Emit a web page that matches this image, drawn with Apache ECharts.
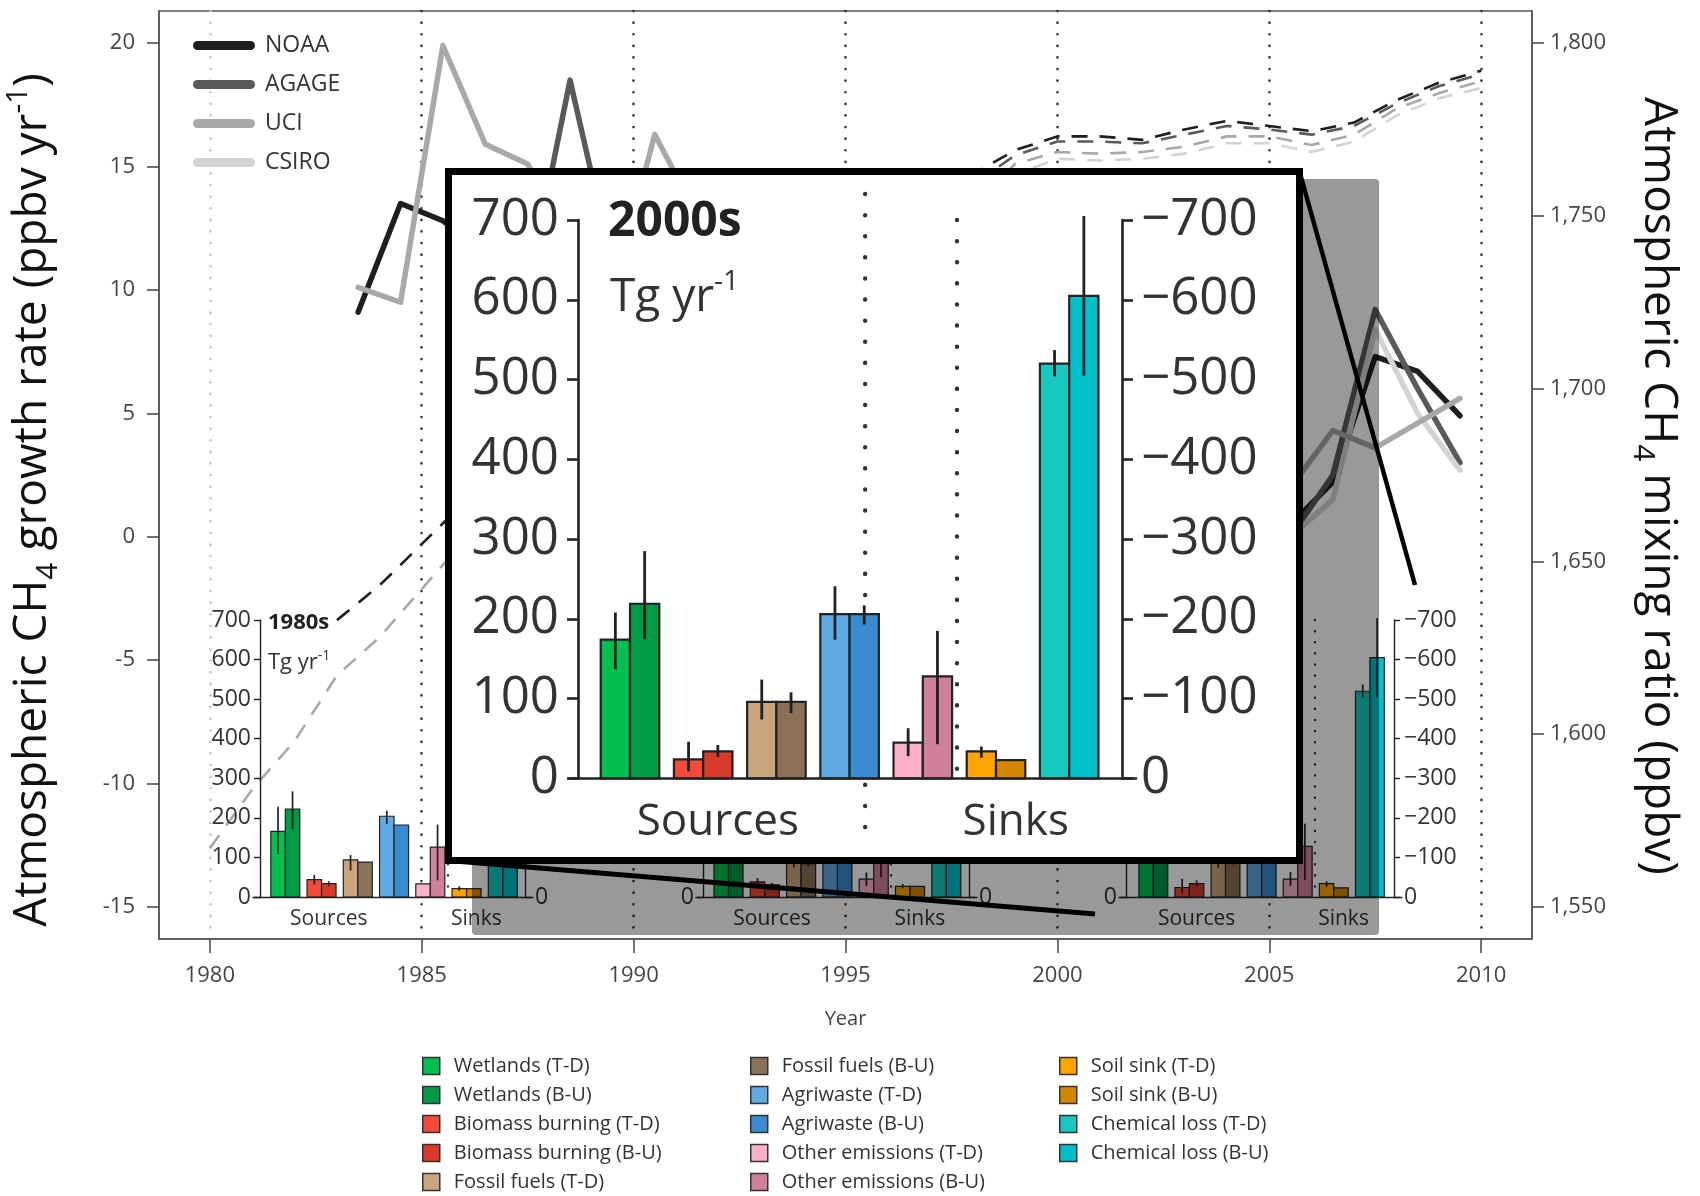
<!DOCTYPE html>
<html><head><meta charset="utf-8">
<script src="https://cdn.jsdelivr.net/npm/echarts@6/dist/echarts.min.js"></script>
<style>html,body{margin:0;padding:0;background:#fff}#c{width:1700px;height:1196px}</style>
</head><body><div id="c"></div>
<script>
// ---------------- DATA ----------------
const tickYears = [1980,1985,1990,1995,2000,2005,2010];
const growthTicks = [-15,-10,-5,0,5,10,15,20];
const mixTicks = [1550,1600,1650,1700,1750,1800];

// growth rate (ppbv/yr), [year, value]
const noaaGrowth = [[1983.5,9.1],[1984.5,13.5],[1985.5,12.8],[1986.5,11.5],[1987.5,12.5],[1988.5,11.5],[1989.5,9.5],[1990.5,8.5],[1991.5,12.5],[1992.5,4],[1993.5,2.5],[1994.5,6],[1995.5,4],[1996.5,3],[1997.5,7],[1998.5,11],[1999.5,3.5],[2000.5,0],[2001.5,0.5],[2002.5,2],[2003.5,3],[2004.5,-1],[2005.5,0.5],[2006.5,2.2],[2007.5,7.3],[2008.5,6.7],[2009.5,4.9]];
const agageGrowth = [[1987.5,10],[1988.5,18.5],[1989.5,11],[1990.5,10],[1991.5,13],[1992.5,5],[1993.5,3],[1994.5,5.5],[1995.5,4.5],[1996.5,2],[1997.5,6],[1998.5,12],[1999.5,4],[2000.5,0.5],[2001.5,0],[2002.5,3],[2003.5,2.5],[2004.5,-0.5],[2005.5,0],[2006.5,2.5],[2007.5,9.2],[2008.5,6.0],[2009.5,3.0]];
const uciGrowth = [[1983.5,10.1],[1984.5,9.5],[1985.5,19.9],[1986.5,15.9],[1987.5,15.1],[1988.5,12],[1989.5,9.8],[1990.5,16.3],[1991.5,13],[1992.5,5],[1993.5,4],[1994.5,7],[1995.5,5],[1996.5,3.5],[1997.5,8],[1998.5,10],[1999.5,3],[2000.5,1],[2001.5,0.5],[2002.5,3.5],[2003.5,4],[2004.5,1],[2005.5,2],[2006.5,4.3],[2007.5,3.6],[2008.5,4.6],[2009.5,5.6]];
const csiroGrowth = [[1986.5,11],[1987.5,12],[1988.5,13],[1989.5,9],[1990.5,8],[1991.5,13],[1992.5,4],[1993.5,3],[1994.5,5],[1995.5,4],[1996.5,2.5],[1997.5,6],[1998.5,11],[1999.5,3],[2000.5,-0.5],[2001.5,0],[2002.5,3],[2003.5,1.5],[2004.5,-1.5],[2005.5,0],[2006.5,1.5],[2007.5,8.4],[2008.5,5.0],[2009.5,2.7]];

// mixing ratio (ppbv), [year, value]
const noaaMix = [[1983,1633],[1984,1643],[1985,1655],[1986,1667],[1987,1678],[1988,1690],[1989,1700],[1990,1709],[1991,1718],[1992,1728],[1993,1733],[1994,1737],[1995,1742],[1996,1746],[1997,1750],[1998,1762],[1999,1769],[2000,1773],[2001,1773],[2002,1772],[2003,1775],[2004,1777.5],[2005,1776],[2006,1774.5],[2007,1777],[2008,1783.5],[2009,1788.5],[2010,1792]];
const agageMix = [[1987,1676],[1988,1688],[1989,1698],[1990,1707],[1991,1716],[1992,1726],[1993,1731],[1994,1735],[1995,1740],[1996,1744],[1997,1748],[1998,1759],[1999,1767.5],[2000,1771.5],[2001,1771.5],[2002,1771],[2003,1773.5],[2004,1776],[2005,1775],[2006,1773.5],[2007,1776],[2008,1782.5],[2009,1787.5],[2010,1791]];
const uciMix = [[1980,1567],[1981,1584],[1982,1598],[1983,1617],[1984,1628],[1985,1642],[1986,1656],[1987,1668],[1988,1680],[1989,1690],[1990,1700],[1991,1710],[1992,1720],[1993,1725],[1994,1729],[1995,1734],[1996,1738],[1997,1742],[1998,1753],[1999,1765],[2000,1768.5],[2001,1768],[2002,1768.5],[2003,1770],[2004,1773],[2005,1773],[2006,1770.5],[2007,1773.5],[2008,1781],[2009,1785.5],[2010,1789]];
const csiroMix = [[1986,1652],[1987,1664],[1988,1676],[1989,1687],[1990,1697],[1991,1707],[1992,1717],[1993,1722],[1994,1726],[1995,1731],[1996,1735],[1997,1739],[1998,1750],[1999,1762],[2000,1766.5],[2001,1766],[2002,1766.5],[2003,1768],[2004,1771],[2005,1771],[2006,1768.5],[2007,1771.5],[2008,1779],[2009,1784],[2010,1787]];

// budget bars (Tg/yr): [value, low, high]; sinks negative
const barTypes = ['Wetlands','Biomass burning','Fossil fuels','Agriwaste','Other emissions','Soil sink','Chemical loss'];
const td1980s = [[166,109,228],[44,31,56],[94,67,106],[204,184,218],[33,null,null],[-21,-16,-27],[-490,-450,-533]];
const bu1980s = [[222,172,267],[34,27,40],[88,null,null],[182,null,null],[126,42,183],[-21,null,null],[-539,-411,-671]];
const td1990s = [[180,140,220],[38,28,48],[95,75,115],[201,185,220],[45,28,62],[-27,-22,-33],[-525,-505,-545]];
const bu1990s = [[206,169,265],[31,26,36],[84,76,92],[190,180,200],[130,50,190],[-27,null,null],[-571,-472,-670]];
const td2000s = [[174,137,208],[24,9,46],[96,74,124],[206,174,241],[45,28,63],[-34,-26,-40],[-520,-504,-537]];
const bu2000s = [[219,175,285],[34,27,42],[96,82,108],[206,193,217],[128,43,185],[-23,null,null],[-605,-505,-705]];

// ---------------- STYLE / LAYOUT ----------------
const FONT = "'Open Sans', 'Noto Sans', sans-serif";
const tdColors = ['#00c04f','#f44b3b','#caa57b','#5eabe3','#fcb1c9','#ffa300','#16c9c1'];
const buColors = ['#009b45','#d93a2b','#8b7257','#3a8bd1','#d27f9d','#d38600','#00bfcb'];
const lineColors = {NOAA:'#1e1e1e', AGAGE:'#5a5a5a', UCI:'#a8a8a8', CSIRO:'#d3d3d3'};

const insetLayout = [
  {x0:253, x1:533, L:260, R:525, c0:285.3, s:36.25, top:620, bottom:897},
  {x0:696, x1:977, L:703, R:969, c0:728.5, s:36.3, top:620, bottom:897},
  {x0:1119, x1:1402, L:1126, R:1394, c0:1153.3, s:36.1, top:620, bottom:897},
  {x0:570, x1:1136, L:578, R:1122, c0:630, s:73.2, top:220, bottom:778.5, big:true}
];
const insetData = [[td1980s,bu1980s],[td1990s,bu1990s],[td2000s,bu2000s],[td2000s,bu2000s]];

const chart = echarts.init(document.getElementById('c'), null, {renderer:'canvas'});

const grids = [{left:159, top:11, width:1373, height:928, show:true, borderColor:'#555', borderWidth:1.5, containLabel:false, outerBoundsMode:'none'}];
const xAxes = [{
  gridIndex:0, type:'value', min:1978.8, max:2011.2,
  axisLine:{show:true, onZero:false, lineStyle:{color:'#555', width:1.5}},
  axisTick:{show:true, customValues:tickYears, length:14, lineStyle:{color:'#444', width:1.5}},
  axisLabel:{customValues:tickYears, formatter:v=>String(v), fontSize:22, color:'#444', margin:26, fontFamily:FONT},
  splitLine:{show:true, lineStyle:{color:['#c4c4c4','#333','#333','#333','#333','#333','#333'], type:[0.1,11.5], width:2.6, cap:'round'}},
  name:'Year', nameLocation:'middle', nameGap:70, nameTextStyle:{fontSize:20, color:'#444', fontFamily:FONT}
}];
const yAxes = [{
  gridIndex:0, type:'value', min:-16.3, max:21.3, position:'left',
  axisLine:{show:true, onZero:false, lineStyle:{color:'#555', width:1.5}},
  axisTick:{show:true, customValues:growthTicks, length:12, lineStyle:{color:'#444', width:1.5}},
  axisLabel:{customValues:growthTicks, formatter:v=>String(v), fontSize:22, color:'#444', margin:24, fontFamily:FONT},
  splitLine:{show:false},
  name:'{a|Atmospheric CH}{s|4}{a| growth rate (ppbv yr}{p|-1}{a|)}', nameLocation:'middle', nameGap:96,
  nameTextStyle:{fontFamily:FONT, padding:[0,50,0,0], rich:{
    a:{fontSize:46, lineHeight:60, color:'#111', fontFamily:FONT},
    s:{fontSize:30, lineHeight:32, verticalAlign:'bottom', color:'#111', fontFamily:FONT},
    p:{fontSize:30, lineHeight:32, verticalAlign:'top', color:'#111', fontFamily:FONT}}}
},{
  gridIndex:0, type:'value', min:1540.714, max:1809.286, position:'right',
  axisLine:{show:true, onZero:false, lineStyle:{color:'#555', width:1.5}},
  axisTick:{show:true, customValues:mixTicks, length:12, lineStyle:{color:'#444', width:1.5}},
  axisLabel:{customValues:mixTicks, formatter:v=>{const s=String(v);return s.slice(0,1)+','+s.slice(1);}, fontSize:22, color:'#444', margin:18, fontFamily:FONT},
  splitLine:{show:false},
  name:'{a|Atmospheric CH}{s|4}{a| mixing ratio (ppbv)}', nameLocation:'middle', nameGap:96, nameRotate:-90,
  nameTextStyle:{fontFamily:FONT, padding:[0,0,0,22], rich:{
    a:{fontSize:46, lineHeight:60, color:'#111', fontFamily:FONT},
    s:{fontSize:30, lineHeight:32, verticalAlign:'bottom', color:'#111', fontFamily:FONT}}}
}];

const series = [];
function lineSeries(name, data, dashed) {
  return {
    type:'line', name: dashed ? name+' mixing ratio' : name, xAxisIndex:0, yAxisIndex: dashed?1:0,
    data, symbol:'none', showSymbol:false, z:2, silent:true,
    itemStyle:{color:lineColors[name]},
    lineStyle: dashed ? {color:lineColors[name], width:2.6, type:[16,12]} : {color:lineColors[name], width:5.5, cap:'round', join:'round'}
  };
}
series.push(lineSeries('CSIRO', csiroMix, true), lineSeries('UCI', uciMix, true), lineSeries('AGAGE', agageMix, true), lineSeries('NOAA', noaaMix, true));
series.push(lineSeries('NOAA', noaaGrowth, false), lineSeries('AGAGE', agageGrowth, false), lineSeries('CSIRO', csiroGrowth, false), lineSeries('UCI', uciGrowth, false));

function makeRender(big) {
  const bw = big ? 2.2 : 1.2, ew = big ? 2.8 : 1.7;
  return function(params, api) {
    const x = api.value(0), v = api.value(1), lo = api.value(2), hi = api.value(3);
    const a = api.coord([x-0.2, 0]), b = api.coord([x+0.2, v]);
    const children = [{type:'rect', shape:{x:Math.min(a[0],b[0]), y:Math.min(a[1],b[1]), width:Math.abs(b[0]-a[0]), height:Math.abs(b[1]-a[1])},
      style:{fill:api.visual('color'), stroke:'#222', lineWidth:bw}}];
    if (isFinite(lo) && isFinite(hi)) {
      const p = api.coord([x, lo]), q = api.coord([x, hi]);
      children.push({type:'line', shape:{x1:p[0], y1:p[1], x2:q[0], y2:q[1]}, style:{stroke:'#222', lineWidth:ew}});
    }
    return {type:'group', children};
  };
}

insetLayout.forEach((L, k) => {
  const big = !!L.big, z = big ? 30 : 3;
  const aw = big ? 2.6 : 1.4;
  grids.push({left:L.x0, top:L.top, width:L.x1-L.x0, height:L.bottom-L.top, containLabel:false, outerBoundsMode:'none'});
  xAxes.push({
    gridIndex:k+1, type:'value', min:(L.x0-L.c0)/L.s, max:(L.x1-L.c0)/L.s, z,
    axisLine:{show:true, onZero:false, lineStyle:{color:'#222', width:aw}},
    axisTick:{show:false, customValues:[4.47]},
    axisLabel:{customValues:[1.2,5.27], formatter:v=> v<3 ? 'Sources' : 'Sinks', fontSize: big?44:21, color:'#333', margin: big?22:12, fontFamily:FONT},
    splitLine:{show:true, lineStyle:{color:'#333', width: big?4.4:2.4, type:[0.1, big?21:11], cap:'round'}}
  });
  yAxes.push({
    gridIndex:k+1, type:'value', min:0, max:700, interval:100, position:'left', offset:-(L.L-L.x0), z,
    axisLine:{show:true, onZero:false, lineStyle:{color:'#222', width:aw}},
    axisTick:{show:true, length: big?11:6, lineStyle:{color:'#222', width:aw}},
    axisLabel:{fontSize: big?51:23, color:'#333', margin: big?19:9, fontFamily:FONT},
    splitLine:{show:false}
  },{
    gridIndex:k+1, type:'value', min:-700, max:0, interval:100, inverse:true, position:'right', offset:-(L.x1-L.R), z,
    axisLine:{show:true, onZero:false, lineStyle:{color:'#222', width:aw}},
    axisTick:{show:true, length: big?11:6, lineStyle:{color:'#222', width:aw}},
    axisLabel:{formatter:v=> v===0 ? '0' : '\u2212'+Math.abs(v), fontSize: big?51:23, color:'#333', margin: big?19:10, fontFamily:FONT},
    splitLine:{show:false}
  });
  const [td, bu] = insetData[k];
  barTypes.forEach((t, i) => {
    const yi = i >= 5 ? 3+2*k : 2+2*k;
    [[td,'T-D',tdColors,-0.2],[bu,'B-U',buColors,0.2]].forEach(([arr,tag,cols,dx]) => {
      series.push({type:'custom', name:`${t} (${tag})`, xAxisIndex:k+1, yAxisIndex:yi, z, silent:true,
        itemStyle:{color:cols[i]}, renderItem:makeRender(big), encode:{x:0, y:1},
        data:[[i+dx, arr[i][0], arr[i][1], arr[i][2]]]});
    });
  });
});

const legendNames = [];
barTypes.forEach(t => { legendNames.push(t+' (T-D)', t+' (B-U)'); });
function barLegend(names, left) {
  return {type:'plain', data:names, left, top:1056, height:220, width:300, orient:'vertical', itemWidth:17, itemHeight:17, itemGap:9, icon:'rect', selectedMode:false,
    padding:0, itemStyle:{borderColor:'#333', borderWidth:1.5},
    textStyle:{fontSize:20, color:'#333', fontFamily:FONT, padding:[0,0,0,9]}};
}
const option = {
  animation:false,
  textStyle:{fontFamily:FONT},
  grid:grids, xAxis:xAxes, yAxis:yAxes, series,
  legend:[
    {data:['NOAA','AGAGE','UCI','CSIRO'], left:188, top:29, orient:'vertical', itemWidth:62, itemHeight:9, itemGap:16, selectedMode:false,
     icon:'path://M4.5 0H57.5A4.5 4.5 0 0 1 57.5 9H4.5A4.5 4.5 0 0 1 4.5 0Z', itemStyle:{borderWidth:0},
     textStyle:{fontSize:23, color:'#333', fontFamily:FONT, padding:[0,0,0,5]}},
    barLegend(legendNames.slice(0,5), 422),
    barLegend(legendNames.slice(5,10), 750),
    barLegend(legendNames.slice(10,14), 1059)
  ]
};
chart.setOption(option);

// ----- decorations: inset box, shadow, zoom connectors, labels -----
const box = {x:445, y:168, w:858, h:696, lw:7};
const gx2005 = chart.convertToPixel({xAxisIndex:0}, 2005);
const unit2005 = chart.convertFromPixel({xAxisIndex:3}, gx2005);
const bigSep = chart.convertToPixel({xAxisIndex:4}, unit2005);
const richTg = (fs, sup) => ({text:'{a|Tg yr}{p|-1}', verticalAlign:'middle', rich:{
  a:{fontSize:fs, lineHeight:fs*1.3, fill:'#333', fontFamily:FONT},
  p:{fontSize:sup, lineHeight:sup, verticalAlign:'top', fill:'#333', fontFamily:FONT}}});
chart.setOption({graphic:[
  {type:'rect', z:10, silent:true, shape:{x:472, y:179, width:907, height:756, r:4}, style:{fill:'rgba(0,0,0,0.40)'}},
  {type:'line', z:15, silent:true, shape:{x1:box.x+3.5, y1:box.y+box.h-3.5, x2:1095, y2:914}, style:{stroke:'#000', lineWidth:5}},
  {type:'line', z:15, silent:true, shape:{x1:box.x+box.w-3.5, y1:box.y+3.5, x2:1415, y2:585}, style:{stroke:'#000', lineWidth:4.5}},
  {type:'rect', z:20, silent:true, shape:{x:box.x+box.lw/2, y:box.y+box.lw/2, width:box.w-box.lw, height:box.h-box.lw}, style:{fill:'#fff', stroke:'#000', lineWidth:box.lw}},
  {type:'line', z:25, silent:true, shape:{x1:bigSep, y1:194, x2:bigSep, y2:846}, style:{stroke:'#333', lineWidth:4.4, lineDash:[0.1,21], lineCap:'round'}},
  {type:'text', z:3, silent:true, x:268, y:623, style:{text:'1980s', fontSize:22, fontWeight:'bold', fill:'#222', fontFamily:FONT, verticalAlign:'middle'}},
  {type:'text', z:3, silent:true, x:268, y:663, style:richTg(22,14)},
  {type:'text', z:31, silent:true, x:608, y:222, style:{text:'2000s', fontSize:48, fontWeight:'bold', fill:'#222', fontFamily:FONT, verticalAlign:'middle'}},
  {type:'text', z:31, silent:true, x:610, y:298, style:richTg(46,28)}
]});
</script></body></html>
